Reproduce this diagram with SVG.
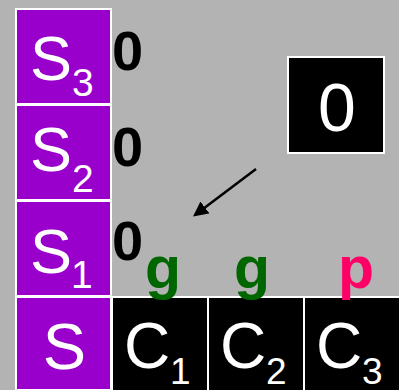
<svg xmlns="http://www.w3.org/2000/svg" width="399" height="390" viewBox="0 0 399 390">
<style>
.s{fill:#9900cc;stroke:#fff;stroke-width:2}
.c{fill:#000;stroke:#fff;stroke-width:2}
.w{fill:#fff;font-family:"Liberation Sans",Arial,sans-serif}
.z{fill:#000;font-family:"Liberation Sans",Arial,sans-serif;font-weight:bold;font-size:56px}
.l{font-family:"Liberation Sans",Arial,sans-serif;font-weight:bold;font-size:59px;text-anchor:middle}
</style>
<defs>
<marker id="ah" markerWidth="6" markerHeight="6" refX="5" refY="3" orient="auto" markerUnits="strokeWidth">
<path d="M0,0 L6,3 L0,6 z" fill="#000"/>
</marker>
</defs>
<rect width="399" height="390" fill="#b3b3b3"/>
<g id="s3"><rect class="s" x="16" y="9" width="95" height="95"/><text class="w" x="30" y="80" font-size="63">S</text><text class="w" x="72" y="96" font-size="39">3</text></g>
<g id="s2"><rect class="s" x="16" y="105" width="95" height="95"/><text class="w" x="30" y="171" font-size="63">S</text><text class="w" x="72" y="192" font-size="39">2</text></g>
<g id="s1"><rect class="s" x="16" y="201" width="95" height="95"/><text class="w" x="30" y="273" font-size="63">S</text><text class="w" x="71" y="288" font-size="39">1</text></g>
<g id="s0"><rect class="s" x="16" y="297" width="95" height="93"/><text class="w" x="64.5" y="369" font-size="65" text-anchor="middle">S</text></g>
<g id="z3"><text class="z" x="112" y="70">0</text></g>
<g id="z2"><text class="z" x="112" y="166">0</text></g>
<g id="z1"><text class="z" x="112" y="260">0</text></g>
<g id="c1"><rect class="c" x="112" y="297" width="96" height="96"/><text class="w" x="124" y="368" font-size="64">C</text><text class="w" x="170" y="384" font-size="37">1</text></g>
<g id="c2"><rect class="c" x="208" y="297" width="96" height="96"/><text class="w" x="220" y="368" font-size="64">C</text><text class="w" x="266" y="384" font-size="37">2</text></g>
<g id="c3"><rect class="c" x="304" y="297" width="96" height="96"/><text class="w" x="316" y="368" font-size="64">C</text><text class="w" x="362" y="384" font-size="37">3</text></g>
<g id="g1"><text class="l" x="163" y="288" fill="#006600">g</text></g>
<g id="g2"><text class="l" x="252" y="288" fill="#006600">g</text></g>
<g id="p3"><text class="l" x="356" y="288" fill="#ff0066">p</text></g>
<g id="box0"><rect class="c" x="288" y="57" width="96" height="96"/><text class="w" x="337" y="131" font-size="68" text-anchor="middle">0</text></g>
<g id="connectors"><line x1="256" y1="169" x2="195" y2="215" stroke="#000" stroke-width="2.5" marker-end="url(#ah)"/></g>
</svg>
